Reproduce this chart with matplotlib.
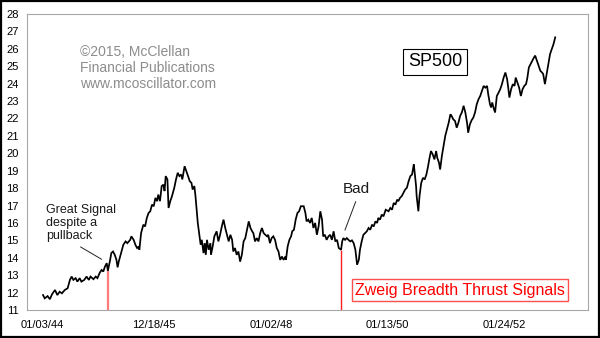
import datetime as dt
import matplotlib
matplotlib.use("Agg")
import matplotlib.pyplot as plt
import matplotlib.dates as mdates
from matplotlib.lines import Line2D
from matplotlib.patches import Rectangle

plt.rcParams["font.family"] = ["Liberation Sans", "DejaVu Sans"]

# S&P 500 closes, 1944-1952 (decimal year, index level)
years = [
    1944.02, 1944.05, 1944.10, 1944.14, 1944.18, 1944.23, 1944.27, 1944.31, 1944.35, 1944.40,
    1944.45, 1944.49, 1944.52, 1944.55, 1944.59, 1944.62, 1944.66, 1944.69, 1944.74, 1944.78,
    1944.82, 1944.85, 1944.90, 1944.94, 1944.97, 1945.01, 1945.04, 1945.07, 1945.10, 1945.13,
    1945.15, 1945.19, 1945.21, 1945.24, 1945.27, 1945.30, 1945.32, 1945.34, 1945.38, 1945.42,
    1945.46, 1945.49, 1945.54, 1945.56, 1945.60, 1945.63, 1945.66, 1945.69, 1945.70, 1945.73,
    1945.77, 1945.80, 1945.83, 1945.86, 1945.89, 1945.92, 1945.95, 1945.98, 1946.01, 1946.03,
    1946.06, 1946.09, 1946.12, 1946.14, 1946.16, 1946.19, 1946.21, 1946.24, 1946.27, 1946.31,
    1946.34, 1946.37, 1946.40, 1946.43, 1946.45, 1946.49, 1946.52, 1946.55, 1946.58, 1946.61,
    1946.63, 1946.66, 1946.68, 1946.70, 1946.72, 1946.75, 1946.77, 1946.79, 1946.82, 1946.84,
    1946.86, 1946.88, 1946.91, 1946.94, 1946.95, 1946.98, 1947.01, 1947.05, 1947.08, 1947.11,
    1947.14, 1947.17, 1947.20, 1947.23, 1947.26, 1947.29, 1947.32, 1947.34, 1947.37, 1947.40,
    1947.43, 1947.46, 1947.49, 1947.52, 1947.55, 1947.58, 1947.61, 1947.64, 1947.67, 1947.69,
    1947.72, 1947.75, 1947.78, 1947.81, 1947.84, 1947.87, 1947.90, 1947.93, 1947.95, 1947.98,
    1948.01, 1948.04, 1948.07, 1948.10, 1948.13, 1948.16, 1948.19, 1948.22, 1948.25, 1948.26,
    1948.29, 1948.32, 1948.35, 1948.37, 1948.40, 1948.43, 1948.46, 1948.49, 1948.52, 1948.57,
    1948.60, 1948.62, 1948.65, 1948.68, 1948.71, 1948.74, 1948.77, 1948.80, 1948.83, 1948.86,
    1948.89, 1948.91, 1948.94, 1948.97, 1949.00, 1949.03, 1949.06, 1949.09, 1949.12, 1949.15,
    1949.18, 1949.22, 1949.24, 1949.26, 1949.29, 1949.32, 1949.35, 1949.38, 1949.41, 1949.44,
    1949.47, 1949.50, 1949.53, 1949.55, 1949.58, 1949.61, 1949.64, 1949.67, 1949.70, 1949.73,
    1949.76, 1949.79, 1949.82, 1949.85, 1949.87, 1949.90, 1949.93, 1949.96, 1950.00, 1950.05,
    1950.08, 1950.11, 1950.14, 1950.17, 1950.20, 1950.22, 1950.25, 1950.28, 1950.31, 1950.34,
    1950.37, 1950.40, 1950.43, 1950.46, 1950.49, 1950.50, 1950.53, 1950.54, 1950.57, 1950.59,
    1950.62, 1950.65, 1950.68, 1950.71, 1950.74, 1950.76, 1950.79, 1950.82, 1950.85, 1950.88,
    1950.90, 1950.93, 1950.95, 1950.98, 1951.01, 1951.04, 1951.07, 1951.10, 1951.13, 1951.15,
    1951.18, 1951.21, 1951.24, 1951.27, 1951.30, 1951.33, 1951.36, 1951.39, 1951.42, 1951.44,
    1951.47, 1951.50, 1951.53, 1951.56, 1951.59, 1951.62, 1951.65, 1951.68, 1951.71, 1951.74,
    1951.77, 1951.79, 1951.82, 1951.84, 1951.86, 1951.89, 1951.91, 1951.94, 1951.97, 1952.00,
    1952.03, 1952.06, 1952.09, 1952.12, 1952.14, 1952.16, 1952.19, 1952.22, 1952.25, 1952.27,
    1952.30, 1952.33, 1952.36, 1952.39, 1952.42, 1952.45, 1952.47, 1952.50, 1952.53, 1952.56,
    1952.59, 1952.61, 1952.64, 1952.67, 1952.70, 1952.73, 1952.75, 1952.78, 1952.81, 1952.84,
    1952.87, 1952.90, 1952.93, 1952.96,
]
sp500 = [
    11.86, 11.67, 11.80, 11.62, 11.92, 12.15, 11.86, 12.05, 11.96, 12.15,
    12.25, 12.73, 12.92, 12.73, 12.83, 12.63, 12.83, 12.63, 12.73, 12.92,
    12.73, 12.92, 12.77, 12.92, 12.83, 13.15, 13.30, 13.21, 13.50, 13.69,
    13.25, 13.88, 14.27, 14.36, 14.17, 13.88, 13.45, 13.78, 14.27, 14.75,
    14.94, 14.84, 15.03, 15.23, 15.03, 14.75, 14.56, 14.65, 14.46, 15.42,
    15.90, 15.80, 16.29, 16.57, 16.67, 17.05, 16.96, 17.44, 17.25, 17.63,
    17.25, 18.12, 18.20, 17.83, 18.69, 18.50, 16.86, 17.25, 17.54, 18.02,
    18.50, 18.88, 18.69, 18.78, 18.50, 19.26, 18.98, 18.69, 18.40, 18.30,
    17.92, 18.12, 17.54, 16.76, 16.00, 15.23, 14.75, 15.03, 14.27, 14.84,
    14.17, 15.03, 14.46, 14.84, 14.17, 14.65, 15.23, 15.52, 14.94, 15.32,
    15.80, 16.19, 15.71, 15.32, 14.94, 15.32, 15.03, 14.36, 14.56, 14.17,
    14.36, 13.78, 14.17, 14.94, 15.13, 15.61, 16.09, 15.71, 15.52, 15.42,
    14.94, 15.13, 14.94, 15.42, 15.71, 15.42, 15.32, 15.23, 15.32, 14.84,
    15.13, 15.23, 15.03, 14.56, 14.36, 13.88, 14.07, 13.88, 14.07, 13.88,
    14.65, 15.03, 15.23, 15.52, 15.61, 16.19, 16.57, 16.67, 16.96, 16.96,
    16.57, 16.09, 16.19, 16.00, 16.29, 15.71, 16.00, 15.32, 15.80, 16.67,
    16.19, 15.23, 15.32, 15.03, 15.23, 15.32, 15.03, 15.52, 14.94, 15.03,
    14.56, 14.46, 14.94, 15.13, 15.03, 15.13, 15.03, 14.94, 15.00, 14.84,
    14.46, 13.60, 13.88, 14.46, 14.94, 15.32, 15.42, 15.52, 15.71, 15.61,
    15.90, 15.80, 16.09, 16.00, 16.29, 16.19, 16.48, 16.38, 16.76, 16.67,
    16.86, 16.76, 17.15, 17.05, 17.34, 17.25, 17.44, 17.54, 17.73, 17.92,
    18.02, 18.40, 18.69, 18.78, 19.36, 19.07, 18.12, 17.54, 16.67, 17.54,
    18.30, 18.59, 18.50, 18.78, 19.26, 19.65, 20.13, 19.94, 19.65, 20.13,
    19.74, 19.46, 19.07, 19.84, 20.42, 21.00, 21.38, 21.76, 22.24, 22.15,
    21.95, 21.86, 21.47, 21.76, 22.15, 22.35, 22.73, 22.35, 21.76, 21.18,
    21.66, 21.90, 22.05, 22.35, 22.82, 23.10, 23.29, 23.58, 23.87, 23.77,
    23.87, 23.39, 22.82, 22.63, 22.92, 22.53, 22.35, 23.29, 23.48, 23.68,
    23.97, 24.35, 24.64, 24.26, 23.77, 23.20, 23.68, 23.97, 23.87, 24.35,
    24.06, 23.77, 23.29, 23.68, 23.87, 23.97, 24.26, 24.93, 25.12, 25.32,
    25.51, 25.61, 25.32, 25.03, 24.74, 24.64, 24.55, 23.97, 24.55, 25.12,
    25.70, 25.99, 26.27, 26.66,
]

# Zweig Breadth Thrust signal dates and index level on those days
signal_years = [1945.15, 1949.22]
signal_levels = [13.25, 14.46]

tick_dates = ["1944-01-03", "1945-12-18", "1948-01-02", "1950-01-13", "1952-01-24"]
y_ticks = list(range(11, 29))
x_range = (1943.74, 1953.53)


def to_date(y):
    base = dt.datetime(int(y), 1, 1)
    return base + dt.timedelta(days=(y - int(y)) * 365.25)


dates = [to_date(y) for y in years]
sig_dates = [to_date(y) for y in signal_years]

fig = plt.figure(figsize=(6.0, 3.38), dpi=100)
fig.patch.set_facecolor("white")
ax = fig.add_axes([0.045, 0.0828, 0.935, 0.8758])

ax.plot(dates, sp500, color="black", lw=1.25, solid_joinstyle="miter")
ax.vlines(sig_dates[0], 11, signal_levels[0], color="#ff7a7a", lw=1.6)
ax.vlines(sig_dates[1], 11, signal_levels[1], color="#ff2020", lw=1.0)

ax.set_ylim(11, 28)
ax.set_xlim(to_date(x_range[0]), to_date(x_range[1]))
ax.set_yticks(y_ticks)
ax.set_xticks([dt.datetime.strptime(d, "%Y-%m-%d") for d in tick_dates])
ax.xaxis.set_major_formatter(mdates.DateFormatter("%m/%d/%y"))
ax.tick_params(axis="both", length=0, labelsize=8, colors="black")
ax.tick_params(axis="y", pad=6)
ax.tick_params(axis="x", pad=7)

for s in ax.spines.values():
    s.set_color("#a8a8a8")
    s.set_linewidth(0.8)
    s.set_linestyle((0, (1, 1)))

ax.text(0.1333, 0.798, "©2015, McClellan\nFinancial Publications\nwww.mcoscillator.com",
        transform=fig.transFigure, ha="left", va="center", fontsize=10,
        color="#8c8c8c", linespacing=1.2)

ax.text(0.725, 0.8166, "SP500", transform=fig.transFigure, ha="center", va="center",
        fontsize=13, color="black",
        bbox=dict(boxstyle="square,pad=0.25", facecolor="white", edgecolor="black", lw=0.8))

ax.text(0.7667, 0.142, "Zweig Breadth Thrust Signals", transform=fig.transFigure,
        ha="center", va="center", fontsize=11.5, color="#ff0000",
        bbox=dict(boxstyle="square,pad=0.2", facecolor="white", edgecolor="#ff5050", lw=1.0))

ax.text(0.0767, 0.341, "Great Signal\ndespite a\npullback", transform=fig.transFigure,
        ha="left", va="center", fontsize=9, color="#1a1a1a", linespacing=1.1)

ax.text(0.5933, 0.4408, "Bad", transform=fig.transFigure, ha="center", va="center",
        fontsize=11, color="#1a1a1a")

fig.add_artist(Line2D([0.1345, 0.1692], [0.2692, 0.2330], transform=fig.transFigure,
                      color="#222222", lw=0.7))
fig.add_artist(Line2D([0.5928, 0.5750], [0.4033, 0.3195], transform=fig.transFigure,
                      color="#222222", lw=0.7))

fig.add_artist(Rectangle((0.0015, 0.0025), 0.997, 0.995, transform=fig.transFigure,
                         fill=False, edgecolor="black", lw=1.6))

fig.savefig("out.png", dpi=100, facecolor="white")
